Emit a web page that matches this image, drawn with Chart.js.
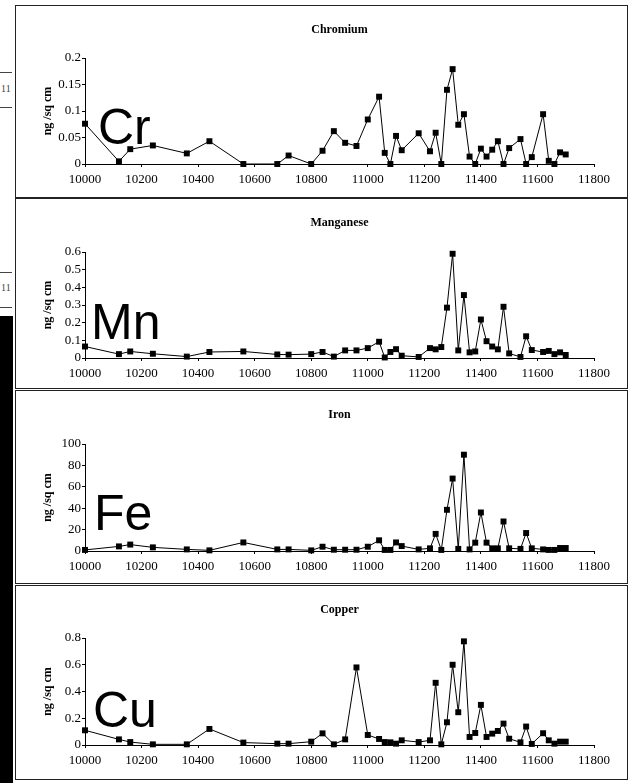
<!DOCTYPE html>
<html>
<head>
<meta charset="utf-8">
<script src="https://cdn.jsdelivr.net/npm/chart.js@4"></script>
<style>
  html, body { margin: 0; padding: 0; background: #fff; }
  body { width: 628px; height: 783px; position: relative; overflow: hidden; }
  .panel { position: absolute; left: 15px; width: 613px; border: 1px solid #222; box-sizing: border-box; background: #fff; }
  .panel canvas { position: absolute; left: 0; top: 0; }
  .symbol { position: absolute; font: 50px/50px "Liberation Sans", Arial, sans-serif; color: #000; z-index: 2; }
  .scan-bar { position: absolute; left: 0; top: 316px; width: 13px; height: 467px; background: #000; }
  .scan-rule { position: absolute; left: 0; width: 12px; height: 1px; background: #444; }
  .scan-num { position: absolute; left: 1px; font: 10px/10px "Liberation Serif", serif; color: #444; }
</style>
</head>
<body>
<div class="scan-rule" style="top:72px"></div>
<div class="scan-num" style="top:84px">11</div>
<div class="scan-rule" style="top:107px"></div>
<div class="scan-rule" style="top:272px"></div>
<div class="scan-num" style="top:283px">11</div>
<div class="scan-rule" style="top:307px"></div>
<div class="scan-bar"></div>

<script>
/* ===========================
   Trace metals vs depth - four stacked panels
   =========================== */

// --------- Data ---------

const DEPTHS = [10000, 10120, 10160, 10240, 10360, 10440, 10560, 10680, 10720, 10800,
  10840, 10880, 10920, 10960, 11000, 11040, 11060, 11080, 11100, 11120,
  11180, 11220, 11240, 11260, 11280, 11300, 11320, 11340, 11360, 11380,
  11400, 11420, 11440, 11460, 11480, 11500, 11540, 11560, 11580, 11620,
  11640, 11660, 11680, 11700];

const CHROMIUM = [0.076, 0.005, 0.028, 0.035, 0.020, 0.043, 0, 0, 0.016, 0,
  0.025, 0.062, 0.040, 0.034, 0.084, 0.127, 0.021, 0, 0.053, 0.026,
  0.058, 0.024, 0.059, 0, 0.140, 0.179, 0.074, 0.094, 0.014, 0,
  0.029, 0.014, 0.027, 0.043, 0, 0.030, 0.047, 0, 0.013, 0.094,
  0.006, 0, 0.022, 0.018];

const MANGANESE = [0.065, 0.022, 0.037, 0.024, 0.008, 0.034, 0.037, 0.020, 0.019, 0.022,
  0.034, 0.008, 0.043, 0.043, 0.056, 0.092, 0.003, 0.034, 0.050, 0.013,
  0.006, 0.056, 0.049, 0.062, 0.285, 0.590, 0.043, 0.356, 0.032, 0.037,
  0.218, 0.095, 0.065, 0.049, 0.290, 0.026, 0.006, 0.123, 0.045, 0.034,
  0.040, 0.022, 0.032, 0.017];

const IRON = [1, 4.3, 6, 3.4, 1.5, 0.6, 8, 1.5, 1.5, 0.6,
  4, 1.2, 1.2, 1.2, 4, 10, 1, 1, 8, 4.6,
  1.5, 2.5, 16, 1, 38.5, 67.7, 2, 90, 1.5, 7.8,
  36, 7.8, 2.5, 2.5, 27.6, 2.5, 2, 16.8, 2.5, 1.5,
  1, 1, 2.8, 2.8];

const COPPER = [0.110, 0.042, 0.022, 0.005, 0.005, 0.120, 0.018, 0.010, 0.010, 0.025,
  0.087, 0.005, 0.042, 0.580, 0.075, 0.045, 0.022, 0.020, 0.010, 0.035,
  0.022, 0.035, 0.465, 0.005, 0.170, 0.600, 0.245, 0.775, 0.060, 0.090,
  0.300, 0.060, 0.085, 0.105, 0.160, 0.047, 0.020, 0.138, 0.008, 0.088,
  0.035, 0.010, 0.025, 0.025];

const TITLES = ['Chromium', 'Manganese', 'Iron', 'Copper'];
const SYMBOLS = ['Cr', 'Mn', 'Fe', 'Cu'];
const SERIES = [CHROMIUM, MANGANESE, IRON, COPPER];
const Y_MAX = [0.2, 0.6, 100, 0.8];
const Y_STEP = [0.05, 0.1, 20, 0.2];
const X_MIN = 10000;
const X_MAX = 11800;
const X_STEP = 200;
const Y_TITLE = 'ng /sq cm';

// --------- Layout (page pixels) ---------

const PANEL_LEFT = 15;
const CANVAS_W = 611;
const PLOT_LEFT = 85;
const PLOT_RIGHT = 594;
const X_AXIS_H = 28;
const LAYOUT = [
  { top: 5,   height: 193, plotTop: 58,  plotBottom: 164, symX: 98, symY: 102 },
  { top: 198, height: 191, plotTop: 252, plotBottom: 358, symX: 91, symY: 297 },
  { top: 390, height: 194, plotTop: 444, plotBottom: 551, symX: 94, symY: 488 },
  { top: 585, height: 195, plotTop: 638, plotBottom: 745, symX: 93, symY: 685 },
];

const SERIF = '"Liberation Serif", "Times New Roman", serif';
Chart.defaults.color = '#000';

// trims float noise: 0.15000000000000002 -> "0.15"
function tickLabel(v) {
  return String(Number(v.toFixed(4)));
}

// --------- Charts ---------

function renderPanel(i) {
  const box = LAYOUT[i];
  const panel = document.createElement('div');
  panel.className = 'panel';
  panel.style.top = box.top + 'px';
  panel.style.height = box.height + 'px';
  document.body.appendChild(panel);

  const innerTop = box.top + 1;
  const innerLeft = PANEL_LEFT + 1;
  const plotTop = box.plotTop - innerTop;
  const plotBottom = box.plotBottom - innerTop;

  const canvas = document.createElement('canvas');
  canvas.width = CANVAS_W;
  canvas.height = plotBottom + X_AXIS_H;
  panel.appendChild(canvas);

  const sym = document.createElement('div');
  sym.className = 'symbol';
  sym.textContent = SYMBOLS[i];
  sym.style.left = box.symX + 'px';
  sym.style.top = box.symY + 'px';
  document.body.appendChild(sym);

  const values = SERIES[i];
  const titleFont = { family: SERIF, size: 12, weight: 'bold' };
  const tickFont = { family: SERIF, size: 13 };

  new Chart(canvas, {
    type: 'line',
    data: {
      datasets: [{
        data: DEPTHS.map((d, k) => ({ x: d, y: values[k] })),
        borderColor: '#000',
        borderWidth: 1,
        pointStyle: 'rect',
        pointRadius: 4.2,
        pointBackgroundColor: '#000',
        pointBorderColor: '#000',
        pointBorderWidth: 0,
        tension: 0,
        clip: false,
      }],
    },
    options: {
      responsive: false,
      animation: false,
      layout: { padding: { left: 0, top: 0, bottom: 0, right: CANVAS_W - (PLOT_RIGHT - innerLeft) } },
      plugins: {
        legend: { display: false },
        tooltip: { enabled: false },
        title: {
          display: true,
          fullSize: false,
          text: TITLES[i],
          color: '#000',
          font: titleFont,
          padding: { top: 17, bottom: plotTop - 17 - 14.4 },
        },
      },
      scales: {
        x: {
          type: 'linear',
          min: X_MIN,
          max: X_MAX,
          afterFit: s => { s.height = X_AXIS_H; },
          ticks: {
            stepSize: X_STEP,
            autoSkip: false,
            maxRotation: 0,
            padding: 5,
            font: tickFont,
            callback: v => String(v),
          },
          grid: { drawOnChartArea: false, tickLength: 3, color: '#000' },
          border: { color: '#000', width: 1 },
        },
        y: {
          min: 0,
          max: Y_MAX[i],
          afterFit: s => { s.width = PLOT_LEFT - innerLeft; },
          ticks: { stepSize: Y_STEP[i], autoSkip: false, padding: 1, font: tickFont, callback: tickLabel },
          title: {
            display: true,
            text: Y_TITLE,
            font: titleFont,
            padding: { top: 25, bottom: 0 },
          },
          grid: { drawOnChartArea: false, tickLength: 3, color: '#000' },
          border: { color: '#000', width: 1 },
        },
      },
    },
  });
}

SERIES.forEach((_, i) => renderPanel(i));
</script>
</body>
</html>
